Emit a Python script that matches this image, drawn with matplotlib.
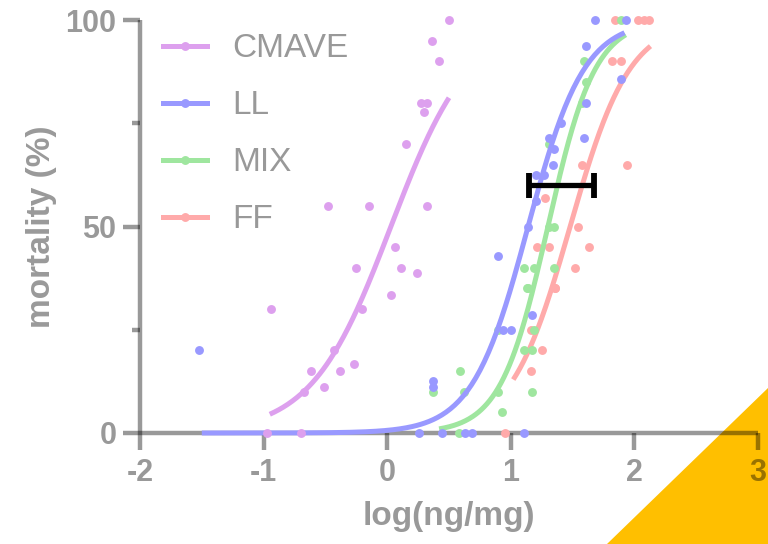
import numpy as np
import matplotlib
matplotlib.use("Agg")
import matplotlib.pyplot as plt
from matplotlib.patches import Polygon
from matplotlib.lines import Line2D

plt.rcParams["font.family"] = ["Liberation Sans", "DejaVu Sans"]
plt.rcParams["axes.unicode_minus"] = False

# ---- observations: log dose (ng/mg) and mortality (%) ----
cmave_x = [0.50, 0.36, 0.42, 0.27, 0.32, 0.30, 0.15, -0.48, -0.15, 0.32,
           0.06, -0.25, 0.11, 0.24, 0.03, -0.94, -0.20, -0.43, -0.62, -0.38,
           -0.27, -0.67, -0.51, -0.97, -0.70]
cmave_y = [100, 95, 90, 80, 80, 77.8, 70, 55, 55, 55,
           45, 40, 40, 38.7, 33.3, 30, 30, 20, 15, 15,
           16.7, 10, 11.1, 0, 0]

ll_x = [-1.52, 0.37, 0.37, 0.26, 0.44, 0.63, 0.69, 1.11, 0.94, 1.00,
        1.17, 0.90, 1.14, 1.20, 1.20, 1.27, 1.34, 1.35, 1.31, 1.59,
        1.41, 1.61, 1.89, 1.61, 1.68, 1.93]
ll_y = [20, 12.5, 11.1, 0, 0, 0, 0, 0, 25, 25,
        28.6, 42.9, 50, 56.2, 62.5, 62.5, 65, 68.75, 71.4, 71.4,
        75, 80, 85.7, 93.75, 100, 100]

mix_x = [0.37, 0.58, 0.59, 0.62, 0.90, 0.93, 1.17, 1.11, 1.17, 0.90,
         1.19, 1.13, 1.14, 1.11, 1.19, 1.35, 1.31, 1.35, 1.31, 1.58,
         1.61, 1.59, 1.89]
mix_y = [10, 0, 15, 10, 10, 5, 10, 20, 20, 25,
         25, 35, 35, 40, 40, 40, 50, 50, 70, 80,
         85, 90, 100]

ff_x = [0.95, 1.16, 1.25, 1.16, 1.36, 1.36, 1.52, 1.21, 1.31, 1.63,
        1.54, 1.28, 1.58, 1.94, 1.82, 1.89, 1.84, 2.03, 2.08, 2.12]
ff_y = [0, 15, 20, 25, 35, 35, 40, 45, 45, 45,
        50, 57, 65, 65, 90, 90, 100, 100, 100, 100]

# ---- fitted dose-response curves (log EC50, Hill slope, x range) ----
cmave_fit = (0.03, 1.35, -0.95, 0.50)
ll_fit = (1.14, 1.92, -1.50, 1.92)
mix_fit = (1.30, 2.27, 0.42, 1.93)
ff_fit = (1.48, 1.80, 1.02, 2.13)

# ---- LC50 confidence interval ----
ci_center = 1.41
ci_low, ci_high = 1.15, 1.67
ci_level = 60

series = [
    ("FF", ff_x, ff_y, ff_fit, "#FFAAAA"),
    ("MIX", mix_x, mix_y, mix_fit, "#9FE69F"),
    ("LL", ll_x, ll_y, ll_fit, "#9999FF"),
    ("CMAVE", cmave_x, cmave_y, cmave_fit, "#DDA0EE"),
]
legend_order = ["CMAVE", "LL", "MIX", "FF"]

grey = (0, 0, 0, 0.4)

fig = plt.figure(figsize=(7.68, 5.44), dpi=100)

# decorative corner triangle (drawn beneath the axes)
tri = Polygon([[1.0, (544 - 388) / 544], [607 / 768, 0.0], [1.0, 0.0]],
              closed=True, transform=fig.transFigure,
              facecolor="#FFBF00", edgecolor="none", zorder=0)
fig.patches.append(tri)

ax = fig.add_axes([140 / 768, (544 - 433) / 544, 618 / 768, 413 / 544])
ax.set_facecolor("none")
ax.set_zorder(1)


def hill(x, logec50, slope):
    return 100.0 / (1.0 + 10 ** ((logec50 - x) * slope))


handles = {}
for i, (name, xs, ys, fit, col) in enumerate(series):
    logec50, slope, x0, x1 = fit
    xx = np.linspace(x0, x1, 200)
    ax.plot(xx, hill(xx, logec50, slope), color=col, lw=3.6,
            solid_capstyle="butt", zorder=2 + i * 2, clip_on=False)
    ax.plot(xs, ys, "o", color=col, ms=6.4, mec="none", zorder=3 + i * 2,
            clip_on=False)
    handles[name] = Line2D([], [], color=col, lw=3.6, marker="o", ms=6.4,
                           mec="none")

ax.errorbar([ci_center], [ci_level],
            xerr=[[ci_center - ci_low], [ci_high - ci_center]],
            fmt="none", ecolor="black", elinewidth=3.8, capsize=9,
            capthick=4.2, zorder=20, clip_on=False)

ax.set_xlim(-2, 3)
ax.set_ylim(0, 100)

for side in ("top", "right"):
    ax.spines[side].set_visible(False)
for side in ("left", "bottom"):
    ax.spines[side].set_color(grey)
    ax.spines[side].set_linewidth(3.2)
    ax.spines[side].set_capstyle("butt")
ax.spines["bottom"].set_position(("data", 0))
ax.spines["left"].set_position(("data", -2))

ax.set_xticks([-2, -1, 0, 1, 2, 3])
ax.set_xticklabels(["-2", "-1", "0", "1", "2", "3"])
ax.set_yticks([0, 50, 100])
ax.set_yticks([25, 75], minor=True)
ax.tick_params(axis="both", which="major", length=12, width=3.2,
               color=grey, labelcolor=grey, labelsize=22)
ax.tick_params(axis="y", which="minor", length=6, width=3.2, color=grey)
ax.tick_params(axis="x", pad=6)
ax.tick_params(axis="y", pad=5)
for lab in ax.get_xticklabels() + ax.get_yticklabels():
    lab.set_fontweight("bold")

ax.set_xlabel("log(ng/mg)", fontsize=24, fontweight="bold", color=grey)
ax.set_ylabel("mortality (%)", fontsize=24, fontweight="bold", color=grey)
ax.xaxis.set_label_coords(0.5, -0.165)
ax.yaxis.set_label_coords(-0.135, 0.5)

leg = ax.legend([handles[n] for n in legend_order], legend_order,
                loc="upper left", bbox_to_anchor=(0.037, 0.968),
                frameon=False, fontsize=24, handlelength=1.32,
                handletextpad=0.75, labelspacing=0.78, borderpad=0,
                borderaxespad=0)
for t in leg.get_texts():
    t.set_color(grey)
leg.set_zorder(30)

fig.savefig("out.png", dpi=100)
